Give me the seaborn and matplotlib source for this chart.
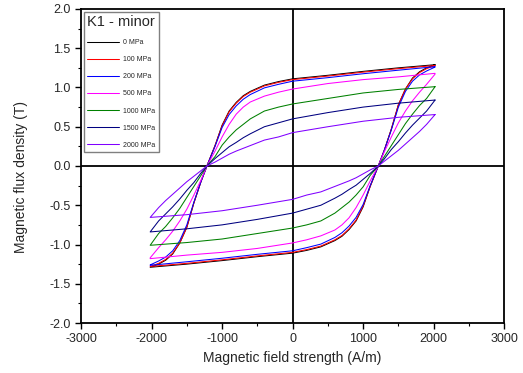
import numpy as np
import pandas as pd
import matplotlib
matplotlib.use("Agg")
import matplotlib.pyplot as plt
from matplotlib.ticker import MultipleLocator
import seaborn as sns

# field values (A/m) along the descending (upper) branch of each loop
field = [2020, 1500, 1000, 500, 0, -200, -400, -600, -700, -800, -900,
         -1000, -1100, -1215, -1300, -1400, -1500, -1600, -1700, -1800,
         -1900, -2020]

# flux density (T) on the upper branch
b_0 = [1.29, 1.25, 1.205, 1.155, 1.11, 1.075, 1.03, 0.95, 0.895, 0.81, 0.70,
       0.52, 0.26, 0.0, -0.20, -0.47, -0.78, -0.98, -1.12, -1.20, -1.25, -1.29]
b_100 = [1.28, 1.24, 1.195, 1.145, 1.10, 1.065, 1.02, 0.94, 0.885, 0.80, 0.69,
         0.51, 0.26, 0.0, -0.20, -0.47, -0.78, -0.98, -1.11, -1.19, -1.24, -1.28]
b_200 = [1.265, 1.22, 1.175, 1.125, 1.08, 1.04, 0.995, 0.91, 0.85, 0.765, 0.655,
         0.49, 0.25, 0.0, -0.20, -0.46, -0.75, -0.95, -1.08, -1.16, -1.21, -1.26]
b_500 = [1.18, 1.135, 1.10, 1.05, 0.98, 0.94, 0.89, 0.815, 0.75, 0.66, 0.53,
         0.37, 0.19, 0.0, -0.18, -0.37, -0.55, -0.70, -0.83, -0.94, -1.04, -1.17]
b_1000 = [1.01, 0.975, 0.93, 0.86, 0.79, 0.75, 0.70, 0.60, 0.53, 0.46, 0.37,
          0.265, 0.12, 0.0, -0.12, -0.26, -0.40, -0.54, -0.66, -0.77, -0.86, -1.01]
b_1500 = [0.84, 0.80, 0.75, 0.68, 0.60, 0.55, 0.50, 0.41, 0.36, 0.30, 0.245,
          0.17, 0.095, 0.0, -0.09, -0.21, -0.31, -0.42, -0.52, -0.61, -0.70, -0.84]
b_2000 = [0.655, 0.62, 0.57, 0.50, 0.425, 0.37, 0.33, 0.26, 0.225, 0.19, 0.15,
          0.10, 0.05, 0.0, -0.06, -0.13, -0.20, -0.28, -0.36, -0.44, -0.53, -0.655]

labels = ["0 MPa", "100 MPa", "200 MPa", "500 MPa", "1000 MPa", "1500 MPa", "2000 MPa"]
colors = ["#000000", "#ff0000", "#0000ff", "#ff00ff", "#008000", "#000080", "#8000ff"]
upper = [b_0, b_100, b_200, b_500, b_1000, b_1500, b_2000]

rows = []
for lab, b in zip(labels, upper):
    # upper branch, then the lower branch (the loop is point symmetric)
    for h, v in zip(field, b):
        rows.append((lab, h, v))
    for h, v in zip(field, b):
        rows.append((lab, -h, -v))
df = pd.DataFrame(rows, columns=["pressure", "H", "B"])

sns.set_style("ticks")
plt.rcParams["font.family"] = ["Liberation Sans", "DejaVu Sans"]
plt.rcParams["axes.unicode_minus"] = False

fig = plt.figure(figsize=(5.23, 3.73), dpi=100)
ax = fig.add_axes([0.155, 0.134, 0.809, 0.842])

ax.axhline(0, color="black", lw=1.3, zorder=1)
ax.axvline(0, color="black", lw=1.3, zorder=1)

sns.lineplot(data=df, x="H", y="B", hue="pressure", hue_order=labels,
             palette=colors, sort=False, estimator=None, lw=0.75, ax=ax)

ax.set_xlim(-3000, 3000)
ax.set_ylim(-2.0, 2.0)
ax.xaxis.set_major_locator(MultipleLocator(1000))
ax.xaxis.set_minor_locator(MultipleLocator(500))
ax.yaxis.set_major_locator(MultipleLocator(0.5))
ax.yaxis.set_minor_locator(MultipleLocator(0.25))
ax.yaxis.set_major_formatter(plt.FuncFormatter(lambda v, p: "%.1f" % v))
ax.tick_params(which="major", length=4, width=1, labelsize=9, color="black")
ax.tick_params(which="minor", length=2.5, width=0.8, color="black")
ax.tick_params(top=False, right=False, which="both")
for s in ax.spines.values():
    s.set_linewidth(1.3)
    s.set_color("black")

ax.set_xlabel("Magnetic field strength (A/m)", fontsize=10, labelpad=4)
ax.set_ylabel("Magnetic flux density (T)", fontsize=10)
ax.yaxis.set_label_coords(-0.125, 0.465)

leg = ax.legend(title="K1 - minor", loc="upper left", fontsize=5,
                title_fontsize=10.5, frameon=True, fancybox=False,
                edgecolor="#808080", framealpha=1, handlelength=4.6,
                handletextpad=0.5, labelspacing=1.45, borderpad=0.5,
                alignment="left", borderaxespad=0.4)
leg.get_frame().set_linewidth(1.0)

fig.savefig("out.png", dpi=100)
